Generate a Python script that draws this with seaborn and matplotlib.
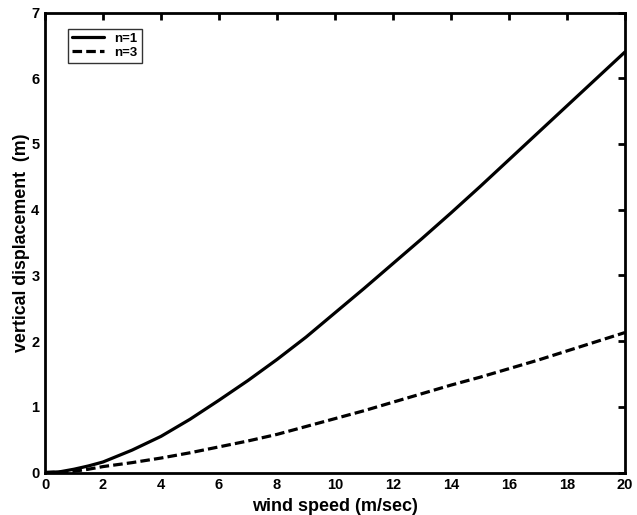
import matplotlib
matplotlib.use("Agg")
import matplotlib.pyplot as plt
import seaborn as sns
import pandas as pd

wind_speed = [0, 0.5, 1, 1.5, 2, 3, 4, 5, 6, 7, 8, 9, 10, 11, 12, 13, 14, 15, 16, 17, 18, 19, 20]
disp_n1 = [0, 0.01, 0.05, 0.10, 0.16, 0.34, 0.55, 0.81, 1.10, 1.40, 1.72, 2.06, 2.43, 2.80, 3.18, 3.56, 3.95, 4.35, 4.76, 5.17, 5.58, 5.99, 6.40]
disp_n3 = [0, 0.005, 0.02, 0.05, 0.09, 0.15, 0.22, 0.30, 0.39, 0.48, 0.58, 0.70, 0.82, 0.94, 1.07, 1.20, 1.33, 1.45, 1.58, 1.71, 1.85, 1.99, 2.13]
series_labels = ["n=1", "n=3"]
x_ticks = [0, 2, 4, 6, 8, 10, 12, 14, 16, 18, 20]
y_ticks = [0, 1, 2, 3, 4, 5, 6, 7]

df = pd.DataFrame({
    "wind": wind_speed * 2,
    "disp": disp_n1 + disp_n3,
    "series": [series_labels[0]] * len(wind_speed) + [series_labels[1]] * len(wind_speed),
})

sns.set_style("white")
plt.rcParams["font.family"] = ["Liberation Sans", "DejaVu Sans"]
plt.rcParams["font.weight"] = "bold"
plt.rcParams["axes.labelcolor"] = "black"
plt.rcParams["text.color"] = "black"

fig = plt.figure(figsize=(6.37, 5.15), dpi=100)
ax = fig.add_axes([45 / 637, 1 - 472.5 / 515, 580 / 637, 460 / 515])

sns.lineplot(data=df, x="wind", y="disp", style="series",
             dashes={"n=1": "", "n=3": (3.0, 1.3)}, color="black",
             linewidth=2.3, ax=ax, legend=True)

ax.set_xlim(0, 20)
ax.set_ylim(0, 7)
ax.set_xticks(x_ticks)
ax.set_yticks(y_ticks)
ax.set_xlabel("wind speed (m/sec)", fontsize=13, fontweight="bold", labelpad=4, color="black")
ax.set_ylabel("vertical displacement  (m)", fontsize=12.8, fontweight="bold", labelpad=1, color="black")
ax.tick_params(direction="in", length=5, width=2, top=True, right=True,
               labelsize=10.5, pad=4, colors="black")
for lab in ax.get_xticklabels() + ax.get_yticklabels():
    lab.set_fontweight("bold")
for sp in ax.spines.values():
    sp.set_linewidth(2)
    sp.set_color("black")
    sp.set_visible(True)

leg = ax.legend(loc="upper left", bbox_to_anchor=(0.04, 0.965), fontsize=9.5,
                frameon=True, fancybox=False, edgecolor="black",
                handlelength=2.4, borderpad=0.3, labelspacing=0.15,
                handletextpad=0.8, borderaxespad=0)
leg.get_frame().set_linewidth(1)
for t in leg.get_texts():
    t.set_fontweight("bold")
    t.set_color("black")

fig.savefig("out.png", dpi=100)
